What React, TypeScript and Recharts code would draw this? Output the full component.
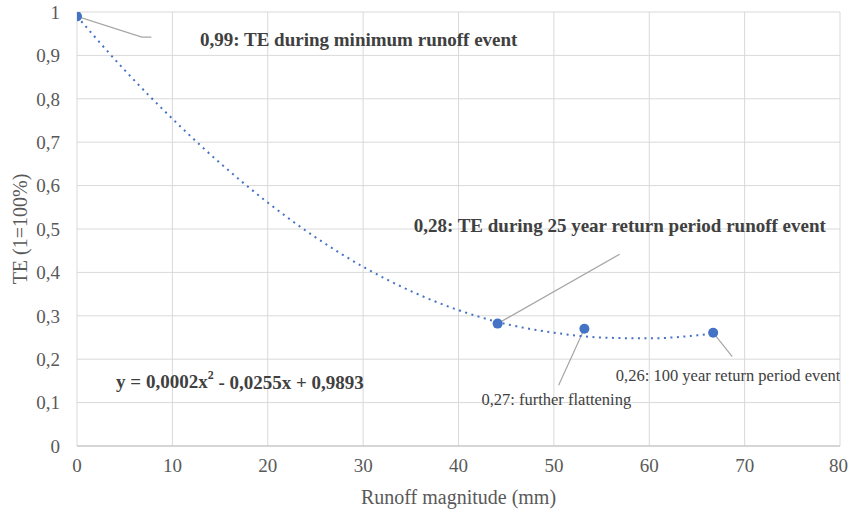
import React from 'react';
import { ComposedChart, Line, Scatter, XAxis, YAxis, CartesianGrid } from 'recharts';

// Observed TE values (runoff mm, TE)
const runoffValues = [0, 44.1, 53.2, 66.7];
const teValues = [0.99, 0.282, 0.27, 0.261];

// Polynomial trendline (x, y)
const trendX = [0, 5, 10, 15, 20, 25, 30, 35, 40, 45, 50, 55, 60, 65, 66.7];
const trendY = [0.99, 0.866, 0.754, 0.652, 0.561, 0.481, 0.413, 0.357, 0.313, 0.281, 0.261, 0.25, 0.248, 0.255, 0.259];

// Leader lines of the annotations (data coordinates)
const leaderMinX = [0, 6.8, 7.8];
const leaderMinY = [0.99, 0.942, 0.942];
const leader25X = [44.1, 56.9];
const leader25Y = [0.282, 0.442];
const leaderFlatX = [53.2, 50.5];
const leaderFlatY = [0.27, 0.14];
const leader100X = [66.7, 68.7];
const leader100Y = [0.261, 0.206];

// Annotation texts and anchor positions (data coordinates)
const annoTexts = [
  '0,99: TE during minimum runoff event',
  '0,28: TE during 25 year return period runoff event',
  '0,27: further flattening',
  '0,26: 100 year return period event',
];
const annoX = [12.9, 35.3, 42.4, 56.5];
const annoY = [0.936, 0.509, 0.106, 0.163];
const annoBold = [true, true, false, false];

const equationParts = ['y = 0,0002x', '2', ' - 0,0255x + 0,9893'];
const equationX = 4.1;
const equationY = 0.148;

const xTicks = [0, 10, 20, 30, 40, 50, 60, 70, 80];
const yTicks = [0, 0.1, 0.2, 0.3, 0.4, 0.5, 0.6, 0.7, 0.8, 0.9, 1];

const xTitle = 'Runoff magnitude (mm)';
const yTitle = 'TE (1=100%)';

const FONT = 'Liberation Serif, Times New Roman, serif';
const BLUE = '#4472C4';

const zip = (xs: number[], ys: number[]) => xs.map((x, i) => ({ x, y: ys[i] }));

const points = zip(runoffValues, teValues);
const trend = zip(trendX, trendY);
const annotations = annoTexts.map((t, i) => ({ x: annoX[i], y: annoY[i], text: t, bold: annoBold[i] }));
const equation = [{ x: equationX, y: equationY }];

const fmtY = (v: number) => (v === 0 || v === 1 ? String(v) : v.toFixed(1).replace('.', ','));

const AnnoShape = (props: any) => {
  const { cx, cy, payload } = props;
  return (
    <text
      x={cx}
      y={cy}
      dominantBaseline="central"
      textAnchor="start"
      fontFamily={FONT}
      fontSize={payload.bold ? 19 : 16.5}
      fontWeight={payload.bold ? 'bold' : 'normal'}
      fill="#404040"
    >
      {payload.text}
    </text>
  );
};

const EquationShape = (props: any) => {
  const { cx, cy } = props;
  return (
    <text x={cx} y={cy} dominantBaseline="central" fontFamily={FONT} fontSize={19} fontWeight="bold" fill="#404040">
      {equationParts[0]}
      <tspan fontSize={12} dy={-7}>{equationParts[1]}</tspan>
      <tspan dy={7}>{equationParts[2]}</tspan>
    </text>
  );
};

export default function App() {
  return (
    <div style={{ position: 'absolute', left: 0, top: 0, background: '#fff', fontFamily: FONT }}>
      <ComposedChart width={848} height={510} margin={{ top: 12, right: 8, left: 0, bottom: 0 }} style={{ fontFamily: FONT }}>
        <CartesianGrid stroke="#d9d9d9" strokeWidth={1} />
        <XAxis
          type="number"
          dataKey="x"
          domain={[0, 80]}
          ticks={xTicks}
          allowDataOverflow
          height={64}
          tickLine={false}
          axisLine={{ stroke: '#bfbfbf', strokeWidth: 1 }}
          tick={{ fill: '#595959', fontSize: 19, fontFamily: FONT }}
          tickMargin={7}
          label={{ value: xTitle, position: 'insideBottom', offset: 6, style: { fill: '#595959', fontSize: 20, fontFamily: FONT } }}
        />
        <YAxis
          type="number"
          dataKey="y"
          domain={[0, 1]}
          ticks={yTicks}
          allowDataOverflow
          width={77}
          tickLine={false}
          axisLine={false}
          tickFormatter={fmtY}
          tick={{ fill: '#595959', fontSize: 19, fontFamily: FONT }}
          tickMargin={11}
          label={{ value: yTitle, angle: -90, position: 'insideLeft', offset: 20, style: { fill: '#595959', fontSize: 20, fontFamily: FONT, textAnchor: 'middle' } }}
        />
        <Line data={zip(leaderMinX, leaderMinY)} dataKey="y" type="linear" stroke="#a6a6a6" strokeWidth={1.2} dot={false} activeDot={false} isAnimationActive={false} />
        <Line data={zip(leader25X, leader25Y)} dataKey="y" type="linear" stroke="#a6a6a6" strokeWidth={1.2} dot={false} activeDot={false} isAnimationActive={false} />
        <Line data={zip(leaderFlatX, leaderFlatY)} dataKey="y" type="linear" stroke="#a6a6a6" strokeWidth={1.2} dot={false} activeDot={false} isAnimationActive={false} />
        <Line data={zip(leader100X, leader100Y)} dataKey="y" type="linear" stroke="#a6a6a6" strokeWidth={1.2} dot={false} activeDot={false} isAnimationActive={false} />
        <Line
          data={trend}
          dataKey="y"
          type="monotone"
          stroke={BLUE}
          strokeWidth={2}
          strokeDasharray="2 4.5"
          dot={false}
          activeDot={false}
          isAnimationActive={false}
        />
        <Scatter data={points} dataKey="y" fill={BLUE} shape={(p: any) => <circle cx={p.cx} cy={p.cy} r={5} fill={BLUE} />} isAnimationActive={false} />
        <Scatter data={annotations} dataKey="y" shape={AnnoShape} isAnimationActive={false} />
        <Scatter data={equation} dataKey="y" shape={EquationShape} isAnimationActive={false} />
      </ComposedChart>
    </div>
  );
}
